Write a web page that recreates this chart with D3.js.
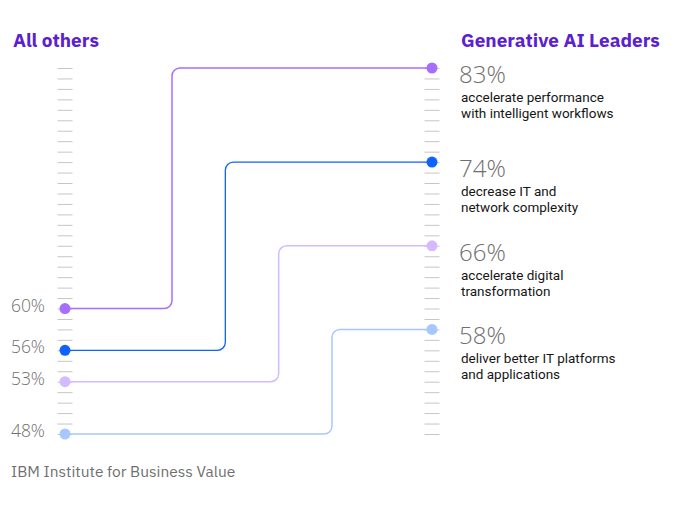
<!DOCTYPE html>
<html>
<head>
<meta charset="utf-8">
<script src="https://cdn.jsdelivr.net/npm/d3@7"></script>
<style>
  html, body { margin: 0; padding: 0; background: #ffffff; }
  svg { display: block; }
</style>
</head>
<body>
<svg id="chart" width="684" height="513"></svg>
<script>
// ---- data ----
const categories = [
  ["accelerate performance", "with intelligent workflows"],
  ["decrease IT and", "network complexity"],
  ["accelerate digital", "transformation"],
  ["deliver better IT platforms", "and applications"]
];
const allOthers = [60, 56, 53, 48];
const genAILeaders = [83, 74, 66, 58];
const seriesNames = ["All others", "Generative AI Leaders"];
const source = "IBM Institute for Business Value";
const colors = ["#a56eff", "#0f62fe", "#d4bbff", "#a6c8ff"];

// ---- layout ----
const svg = d3.select("#chart");
const fontFamily = "'IBM Plex Sans', 'Noto Sans', 'Open Sans', sans-serif";
const lightFamily = "'Open Sans', 'Lato', sans-serif";
const descFamily = "Roboto, 'Noto Sans', sans-serif";
const leftX = 65, rightX = 432;
const y = d3.scaleLinear().domain([48, 83]).range([434, 68]);
const tickValues = d3.range(48, 84);

// tick axes
function drawTicks(cx) {
  const ax = d3.axisRight(y).tickValues(tickValues).tickSize(15).tickFormat("");
  const g = svg.append("g").attr("transform", `translate(${cx - 7.5},0)`).call(ax);
  g.select(".domain").remove();
  g.selectAll(".tick line").attr("stroke", "#c6c6c6").attr("stroke-width", 1);
}
drawTicks(leftX);
drawTicks(rightX);

// step x positions
const stepX = d3.scalePoint().domain(d3.range(categories.length)).range([172, 332]);
const r = 8;

categories.forEach((c, i) => {
  const yl = y(allOthers[i]), yr = y(genAILeaders[i]), vx = stepX(i);
  const p = d3.path();
  p.moveTo(leftX, yl);
  p.lineTo(vx - r, yl);
  p.arcTo(vx, yl, vx, yl - r, r);
  p.lineTo(vx, yr + r);
  p.arcTo(vx, yr, vx + r, yr, r);
  p.lineTo(rightX, yr);
  svg.append("path").attr("d", p.toString()).attr("fill", "none")
    .attr("stroke", colors[i]).attr("stroke-width", i === 1 ? 1.3 : 1.5);
});

// dots
categories.forEach((c, i) => {
  svg.append("circle").attr("cx", leftX).attr("cy", y(allOthers[i])).attr("r", 5.5).attr("fill", colors[i]);
  svg.append("circle").attr("cx", rightX).attr("cy", y(genAILeaders[i])).attr("r", 5.5).attr("fill", colors[i]);
});

// titles
const titleColor = "#5b21cf";
svg.append("text").attr("x", 13).attr("y", 47).text(seriesNames[0])
  .attr("font-family", fontFamily).attr("font-weight", 700).attr("font-size", 19).attr("fill", titleColor);
svg.append("text").attr("x", 461).attr("y", 47).text(seriesNames[1])
  .attr("font-family", fontFamily).attr("font-weight", 700).attr("font-size", 19).attr("fill", titleColor);

// left labels
allOthers.forEach((v, i) => {
  svg.append("text").attr("x", 45).attr("y", y(v) + 3).attr("text-anchor", "end")
    .text(v + "%").attr("font-family", lightFamily).attr("font-weight", 300)
    .attr("font-size", 17.5).attr("fill", "#6f6f6f");
});

// right labels
genAILeaders.forEach((v, i) => {
  const yy = y(v);
  svg.append("text").attr("x", 459).attr("y", yy + 15).text(v + "%")
    .attr("font-family", lightFamily).attr("font-weight", 300)
    .attr("font-size", 24).attr("fill", "#6f6f6f");
  const t = svg.append("text").attr("x", 461).attr("y", yy + 34)
    .attr("font-family", descFamily).attr("font-size", 13.5).attr("fill", "#161616");
  categories[i].forEach((line, k) => {
    t.append("tspan").attr("x", 461).attr("dy", k === 0 ? 0 : 16).text(line);
  });
});

// source
svg.append("text").attr("x", 11).attr("y", 477).text(source)
  .attr("font-family", fontFamily).attr("font-size", 15.5).attr("fill", "#6f6f6f");
</script>
</body>
</html>
